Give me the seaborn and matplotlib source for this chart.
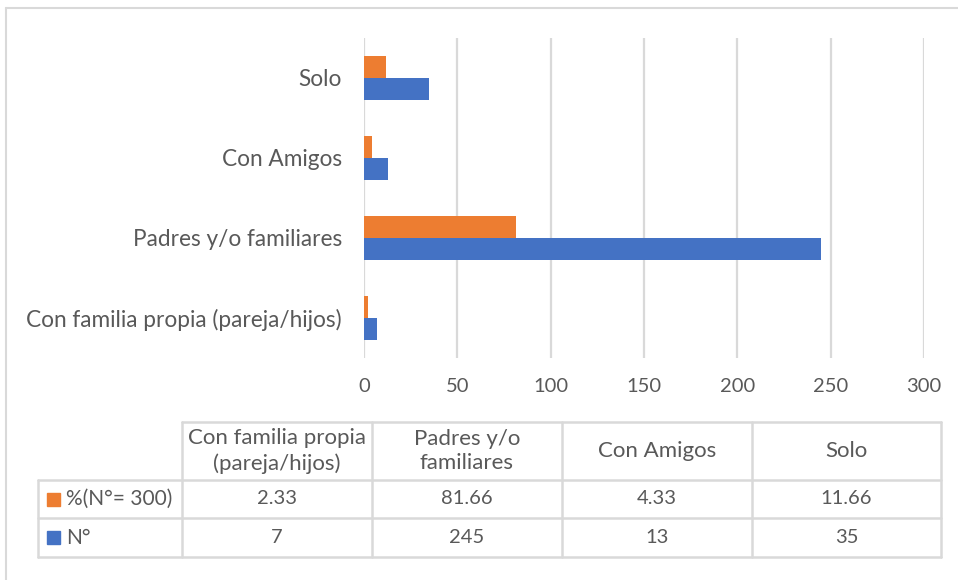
import matplotlib.pyplot as plt
import seaborn as sns
import pandas as pd

# data (bottom to top in the chart)
categorias = ["Con familia propia (pareja/hijos)", "Padres y/o familiares", "Con Amigos", "Solo"]
cat_tabla = ["Con familia propia\n(pareja/hijos)", "Padres y/o\nfamiliares", "Con Amigos", "Solo"]
porcentaje = [2.33, 81.66, 4.33, 11.66]
n_valores = [7, 245, 13, 35]
series = ["%(N°= 300)", "N°"]
colores = ["#ED7D31", "#4472C4"]
ticks_x = [0, 50, 100, 150, 200, 250, 300]

gris = "#595959"
linea = "#D9D9D9"

sns.set_theme(style="white")
plt.rcParams['font.family'] = ['Lato', 'DejaVu Sans']

df = pd.DataFrame({
    "cat": categorias * 2,
    "valor": porcentaje + n_valores,
    "serie": [series[0]] * 4 + [series[1]] * 4,
})

fig = plt.figure(figsize=(9.58, 5.80), dpi=100)
W, H = 958, 580

# frame + table layer in pixel coords
bg = fig.add_axes([0, 0, 1, 1])
bg.set_xlim(0, W)
bg.set_ylim(H, 0)
bg.axis("off")

ax = fig.add_axes([364 / W, 1 - 358 / H, (924 - 364) / W, (358 - 38) / H])
sns.barplot(data=df, y="cat", x="valor", hue="serie", order=categorias[::-1],
            hue_order=series, palette=colores, orient="h", width=0.55, gap=0,
            saturation=1, edgecolor="none", ax=ax)
ax.legend_.remove()
ax.set_xlim(0, 300)
ax.set_ylim(3.5, -0.5)
ax.set_xticks(ticks_x)
ax.set_xlabel("")
ax.set_ylabel("")
ax.grid(axis="x", color=linea, linewidth=1.6)
ax.set_axisbelow(True)
for s in ax.spines.values():
    s.set_visible(False)
ax.tick_params(axis="x", length=0, pad=14.5, labelsize=14.5, labelcolor=gris)
ax.tick_params(axis="y", length=0, pad=16, labelsize=16.3, labelcolor=gris)

# outer frame
bg.plot([6, W], [8, 8], color=linea, lw=1.5)
bg.plot([6, 6], [8, H], color=linea, lw=1.5)

# table
cols = [182, 372, 562, 752, 941]
rows = [422, 480, 518, 557]
left = 38
tcol = "#D9D9D9"
lw = 1.8
bg.plot([cols[0], cols[-1]], [rows[0], rows[0]], color=tcol, lw=lw)
for y in rows[1:]:
    bg.plot([left, cols[-1]], [y, y], color=tcol, lw=lw)
for x in cols:
    bg.plot([x, x], [rows[0], rows[-1]], color=tcol, lw=lw)
bg.plot([left, left], [rows[1], rows[-1]], color=tcol, lw=lw)

fs = 16
fn = 14.5
for i, lab in enumerate(cat_tabla):
    cx = (cols[i] + cols[i + 1]) / 2
    bg.text(cx, (rows[0] + rows[1]) / 2, lab, ha="center", va="center",
            fontsize=fs, color=gris, linespacing=1.3)
    bg.text(cx, (rows[1] + rows[2]) / 2, f"{porcentaje[i]:.2f}", ha="center",
            va="center", fontsize=fn, color=gris)
    bg.text(cx, (rows[2] + rows[3]) / 2, f"{n_valores[i]}", ha="center",
            va="center", fontsize=fn, color=gris)

for j, (nom, c) in enumerate(zip(series, colores)):
    cy = (rows[j + 1] + rows[j + 2]) / 2
    bg.add_patch(plt.Rectangle((47, cy - 6.5), 13, 13, color=c))
    bg.text(66, cy, nom, ha="left", va="center", fontsize=15, color=gris)

fig.savefig("out.png", dpi=100)
